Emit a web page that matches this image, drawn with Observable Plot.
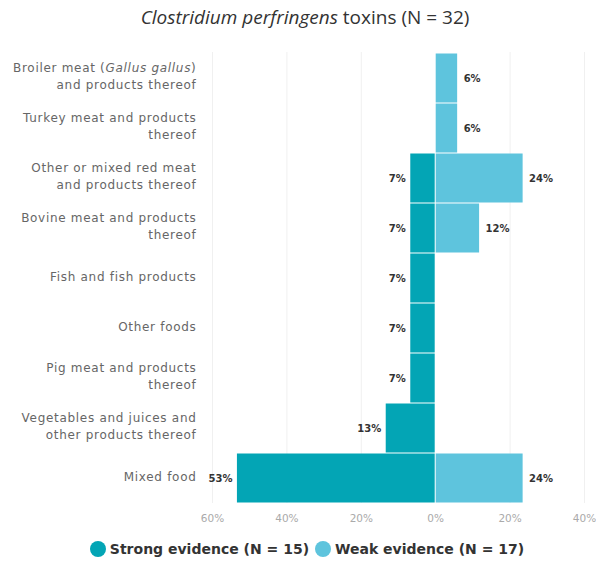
<!DOCTYPE html>
<html>
<head>
<meta charset="utf-8">
<script src="https://cdn.jsdelivr.net/npm/d3@7"></script>
<script src="https://cdn.jsdelivr.net/npm/@observablehq/plot@0.6"></script>
<style>
  body { margin: 0; background: #fff; width: 596px; }
  #title { height: 38px; line-height: 34px; text-align: center; font-family: "Open Sans", sans-serif; font-size: 19px; color: #333; padding-left: 14px; }
  #legend { display: flex; justify-content: center; align-items: center; gap: 6px; font-family: "DejaVu Sans", sans-serif; font-weight: bold; font-size: 14px; color: #333; margin-top: 13px; padding-left: 18px; }
  .dot { display: inline-block; width: 16px; height: 16px; border-radius: 50%; margin-right: 4px; }
</style>
</head>
<body>
<div id="title"><i>Clostridium perfringens</i> toxins (N = 32)</div>
<div id="chart"></div>
<div id="legend"></div>
<script>
const categories = [
  "Broiler meat (Gallus gallus) and products thereof",
  "Turkey meat and products thereof",
  "Other or mixed red meat and products thereof",
  "Bovine meat and products thereof",
  "Fish and fish products",
  "Other foods",
  "Pig meat and products thereof",
  "Vegetables and juices and other products thereof",
  "Mixed food"
];
const categoryLines = [
  "Broiler meat (Gallus gallus)\nand products thereof",
  "Turkey meat and products\nthereof",
  "Other or mixed red meat\nand products thereof",
  "Bovine meat and products\nthereof",
  "Fish and fish products",
  "Other foods",
  "Pig meat and products\nthereof",
  "Vegetables and juices and\nother products thereof",
  "Mixed food"
];
const strongValues = [0, 0, 6.7, 6.7, 6.7, 6.7, 6.7, 13.3, 53.3];
const weakValues = [5.9, 5.9, 23.5, 11.8, 0, 0, 0, 0, 23.5];
const xTicks = [-60, -40, -20, 0, 20, 40];
const seriesNames = ["Strong evidence (N = 15)", "Weak evidence (N = 17)"];
const seriesColors = ["#03a5b5", "#5ec4dd"];

const strongData = categories.map((c, i) => ({cat: c, v: strongValues[i]})).filter(d => d.v > 0);
const weakData = categories.map((c, i) => ({cat: c, v: weakValues[i]})).filter(d => d.v > 0);
const lineOf = new Map(categories.map((c, i) => [c, categoryLines[i]]));
const pct = d3.format(".0f");

const chart = Plot.plot({
  width: 596,
  height: 490,
  marginTop: 14,
  marginBottom: 25,
  marginLeft: 212,
  marginRight: 12,
  style: {fontFamily: "DejaVu Sans, sans-serif", background: "#fff"},
  x: {domain: [-60, 40]},
  y: {domain: categories, padding: 0},
  marks: [
    Plot.ruleX(xTicks.filter(t => t !== 0), {stroke: "#f0f0f0", strokeWidth: 1}),
    Plot.barX(strongData, {y: "cat", x1: 0, x2: d => -d.v, fill: seriesColors[0], insetTop: 0.5, insetBottom: 0.5, insetRight: 0.5}),
    Plot.barX(weakData, {y: "cat", x1: 0, x2: "v", fill: seriesColors[1], insetTop: 0.5, insetBottom: 0.5, insetLeft: 0.5}),
    Plot.text(strongData, {y: "cat", x: d => -d.v, text: d => pct(d.v) + "%", textAnchor: "end", dx: -5, fontSize: 10, fontWeight: "bold", fill: "#333"}),
    Plot.text(weakData, {y: "cat", x: "v", text: d => pct(d.v) + "%", textAnchor: "start", dx: 6, fontSize: 10, fontWeight: "bold", fill: "#333"}),
    Plot.axisY({tickSize: 0, tickPadding: 16, fontSize: 12, fill: "#666", lineHeight: 1.4, dy: -3, tickFormat: d => lineOf.get(d), label: null}),
    Plot.axisX({ticks: xTicks, tickSize: 0, tickPadding: 11, fontSize: 10.5, fill: "#aaa", tickFormat: d => Math.abs(d) + "%", label: null})
  ]
});
document.getElementById("chart").appendChild(chart);

// widen the category labels a little, as in the reference
chart.querySelectorAll("[aria-label='y-axis tick label'] text").forEach(t => t.setAttribute("letter-spacing", "0.7"));

// italicise the species name in the first category label
chart.querySelectorAll("tspan, text").forEach(el => {
  if (el.childElementCount === 0 && el.textContent === "Broiler meat (Gallus gallus)") {
    el.textContent = "";
    const ns = "http://www.w3.org/2000/svg";
    const a = document.createElementNS(ns, "tspan"); a.textContent = "Broiler meat (";
    const b = document.createElementNS(ns, "tspan"); b.textContent = "Gallus gallus"; b.setAttribute("font-style", "italic");
    const c = document.createElementNS(ns, "tspan"); c.textContent = ")";
    el.appendChild(a); el.appendChild(b); el.appendChild(c);
  }
});

const legend = document.getElementById("legend");
seriesNames.forEach((n, i) => {
  const item = document.createElement("span");
  item.style.display = "inline-flex"; item.style.alignItems = "center";
  const dot = document.createElement("span"); dot.className = "dot"; dot.style.background = seriesColors[i];
  item.appendChild(dot);
  item.appendChild(document.createTextNode(n));
  legend.appendChild(item);
});
</script>
</body>
</html>
